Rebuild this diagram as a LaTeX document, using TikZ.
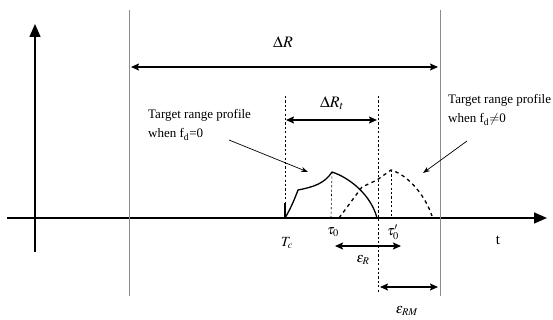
\documentclass[tikz,border=0pt]{standalone}
\usepackage{mathptmx}
\usepackage{fontspec}
\setmainfont{Liberation Serif}
\usetikzlibrary{arrows.meta, calc, positioning}
\definecolor{limgray}{HTML}{8C8C8C}
\tikzset{
  % assi del grafico
  asse/.style={line width=1.4pt, -{Triangle[length=13pt, width=11pt]}},
  % limiti della finestra
  limite/.style={line width=1pt, limgray},
  % quote con doppia freccia
  quota/.style={line width=1.5pt, {Stealth[length=8pt, width=7pt, inset=1.5pt]}-{Stealth[length=8pt, width=7pt, inset=1.5pt]}},
  % linee di riferimento tratteggiate
  guida/.style={line width=0.6pt, dash pattern=on 2.2pt off 2.2pt},
  % profili del bersaglio
  profilo/.style={line width=1.3pt, line join=round},
  profilo doppler/.style={line width=1.3pt, dash pattern=on 3.5pt off 3.5pt},
  % freccia di richiamo
  richiamo/.style={line width=0.7pt, -{Stealth[length=7pt, width=5pt]}},
  % etichette
  lbl/.style={font=\fontsize{13}{19}\selectfont, align=left, inner sep=0pt},
  mathlbl/.style={font=\fontsize{14}{16}\selectfont, inner sep=0pt},
}
\begin{document}
\begin{tikzpicture}[x=1pt, y=-1pt]
  \useasboundingbox (0,0) rectangle (553,320);
  % assi
  \coordinate (ybot) at (35,252);
  \coordinate (ytop) at (35,24);
  \coordinate (xlft) at (7,218);
  \coordinate (xrgt) at (547,218);
  \draw[asse] (ybot) -- (ytop);
  \draw[asse] (xlft) -- (xrgt);
  % finestra Delta R
  \coordinate (wl top) at (129,10);
  \coordinate (wl bot) at (129,296);
  \coordinate (wr top) at (440,10);
  \coordinate (wr bot) at (440,296);
  \draw[limite] (wl top) -- (wl bot);
  \draw[limite] (wr top) -- (wr bot);
  \coordinate (dR l) at (131,67);
  \coordinate (dR r) at (438,67);
  \draw[quota] (dR l) -- (dR r);
  \node[mathlbl, font=\fontsize{16}{18}\selectfont] (dR) at (283,42) {$\Delta R$};
  % guide tratteggiate
  \coordinate (Tc top) at (285,96);
  \coordinate (Tc bot) at (285,218);
  \coordinate (g top) at (378,96);
  \coordinate (g bot) at (378,292);
  \draw[guida] (Tc top) -- (Tc bot);
  \draw[guida] (g top) -- (g bot);
  \coordinate (dRt l) at (286,120);
  \coordinate (dRt r) at (377,120);
  \draw[quota] (dRt l) -- (dRt r);
  \node[mathlbl, font=\fontsize{16}{18}\selectfont] (dRt) at (332,103) {$\Delta R_t$};
  % profilo con f_d = 0
  \coordinate (p0) at (285,218);
  \coordinate (p1) at (298,190);
  \coordinate (p2) at (332,172);
  \coordinate (p3) at (377,218);
  \draw[profilo] (285,203) -- (p0);
  \draw[profilo] (p0) .. controls (291,208) and (295,198) .. (p1)
    .. controls (314,187) and (325,183) .. (p2)
    .. controls (350,178) and (371,195) .. (p3);
  % profilo con f_d != 0
  \coordinate (q0) at (339,218);
  \coordinate (q1) at (362,187);
  \coordinate (q2) at (377,180);
  \coordinate (q3) at (391,170);
  \coordinate (q4) at (432,216);
  \draw[profilo doppler] (q0) -- (q1) -- (q2) -- (q3)
    .. controls (408,175) and (425,195) .. (q4);
  % tau_0 e tau'_0
  \draw[guida] (p2) -- (331,218);
  \draw[guida] (q3) -- (391,218);
  \node[mathlbl] (Tc) at (287,243) {$T_c$};
  \node[mathlbl] (tau0) at (333,232) {$\tau_0$};
  \node[mathlbl] (tau1) at (393,232) {$\tau'_0$};
  \node[lbl, font=\fontsize{15}{16}\selectfont] (tlbl) at (498,240) {t};
  % errori
  \coordinate (eR l) at (335,246);
  \coordinate (eR r) at (401,246);
  \draw[quota] (eR l) -- (eR r);
  \node[mathlbl] (eR) at (363,260) {$\varepsilon_R$};
  \coordinate (eRM l) at (380,287);
  \coordinate (eRM r) at (438,287);
  \draw[quota] (eRM l) -- (eRM r);
  \node[mathlbl] (eRM) at (407,311) {$\varepsilon_{RM}$};
  % didascalie
  \node[lbl, anchor=west] (pz) at (148,125) {Target range profile\\when f\textsubscript{d}=0};
  \node[lbl, anchor=west] (pnz) at (448,110) {Target range profile\\when f\textsubscript{d}$\neq$0};
  \coordinate (pz tip) at (308,172);
  \coordinate (pnz tip) at (423,173);
  \draw[richiamo] (229,140) -- (pz tip);
  \draw[richiamo] (467,141) -- (pnz tip);
\end{tikzpicture}
\end{document}
